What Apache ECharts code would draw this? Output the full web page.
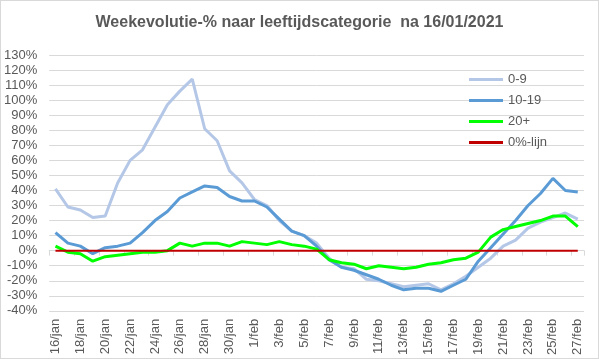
<!DOCTYPE html>
<html>
<head>
<meta charset="utf-8">
<script src="https://cdn.jsdelivr.net/npm/echarts@6/dist/echarts.min.js"></script>
<style>
html,body{margin:0;padding:0;background:#fff;}
#c{width:599px;height:359px;box-sizing:border-box;border:1px solid #d9d9d9;}
</style>
</head>
<body>
<div id="c"></div>
<script>
var categories = ["16/jan","17/jan","18/jan","19/jan","20/jan","21/jan","22/jan","23/jan","24/jan","25/jan","26/jan","27/jan","28/jan","29/jan","30/jan","31/jan",
"1/feb","2/feb","3/feb","4/feb","5/feb","6/feb","7/feb","8/feb","9/feb","10/feb","11/feb","12/feb","13/feb","14/feb","15/feb","16/feb","17/feb","18/feb","19/feb","20/feb","21/feb","22/feb","23/feb","24/feb","25/feb","26/feb","27/feb"];
var s0_9 = [41,29,27,22,23,45,60,67,82,97,106,114,81,73,53,45,34,30,20,13,10,5,-5,-11,-12,-19,-20,-22,-24,-23,-22,-26,-22,-17,-11,-5,3,7,15,19,22,25,21];
var s10_19 = [12,5,3,-2,2,3,5,12,20,26,35,39,43,42,36,33,33,29,21,13,10,3,-6,-11,-13,-16,-19,-23,-26,-25,-25,-27,-23,-19,-7,2,11,20,30,38,48,40,39];
var s20 = [3,-1,-2,-7,-4,-3,-2,-1,-1,0,5,3,5,5,3,6,5,4,6,4,3,1,-6,-8,-9,-12,-10,-11,-12,-11,-9,-8,-6,-5,-1,9,14,16,18,20,23,23,16];
var s0line = [0,0,0,0,0,0,0,0,0,0,0,0,0,0,0,0,0,0,0,0,0,0,0,0,0,0,0,0,0,0,0,0,0,0,0,0,0,0,0,0,0,0,0];
var yTicks = {min:-40, max:130, interval:10};

var chart = echarts.init(document.getElementById('c'), null, {renderer:'canvas'});
var txt = '#595959';
var font = 'Liberation Sans, Arial, sans-serif';
function line(name, data, color, width){
  return {name:name, type:'line', data:data, symbol:'none', showSymbol:false,
    lineStyle:{color:color, width:width}, itemStyle:{color:color}, animation:false, z:2};
}
chart.setOption({
  animation:false,
  title:{text:'Weekevolutie-% naar leeftijdscategorie  na 16/01/2021', left:'center', top:9,
    textStyle:{color:txt, fontSize:16, fontWeight:'bold', fontFamily:font}},
  grid:{left:48, right:14, top:54, bottom:26, containLabel:false},
  legend:{orient:'vertical', left:463, top:66, icon:'rect', itemWidth:34, itemHeight:3, itemGap:6,
    textStyle:{color:txt, fontSize:13, fontFamily:font, lineHeight:15},
    data:['0-9','10-19','20+','0%-lijn']},
  xAxis:{type:'category', data:categories, boundaryGap:true,
    axisLine:{onZero:true, lineStyle:{color:'#d9d9d9'}},
    axisTick:{show:true, interval:1, length:5, lineStyle:{color:'#d9d9d9'}},
    axisLabel:{interval:1, rotate:90, color:txt, fontSize:13, fontFamily:font, margin:8}},
  yAxis:{type:'value', min:yTicks.min, max:yTicks.max, interval:yTicks.interval,
    axisLine:{show:false}, axisTick:{show:false},
    axisLabel:{formatter:'{value}%', color:txt, fontSize:13, fontFamily:font, margin:12},
    splitLine:{lineStyle:{color:'#d9d9d9', width:1}}},
  series:[
    line('0-9', s0_9, '#b4c7e7', 3),
    line('10-19', s10_19, '#5b9bd5', 3),
    line('20+', s20, '#00ff00', 3),
    line('0%-lijn', s0line, '#c00000', 2)
  ]
});
</script>
</body>
</html>
